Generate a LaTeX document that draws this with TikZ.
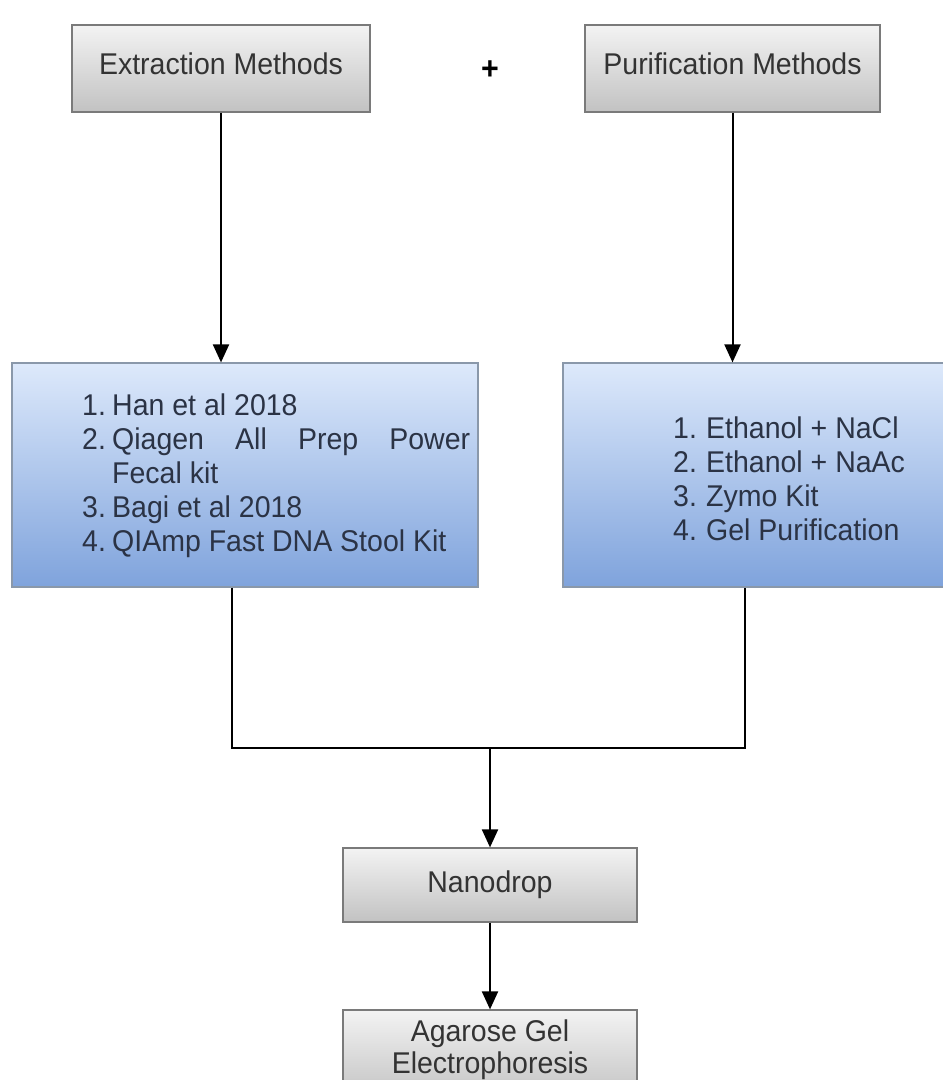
\documentclass[tikz,border=0pt]{standalone}
\usepackage{fontspec}
\setmainfont{Liberation Sans}[FakeStretch=0.95]
\usetikzlibrary{arrows.meta}
\definecolor{txtgray}{HTML}{333333}
\definecolor{txtblue}{HTML}{2B3345}
\definecolor{graytop}{HTML}{F3F3F3}
\definecolor{graybot}{HTML}{C2C2C2}
\definecolor{grayedge}{HTML}{7A7A7A}
\definecolor{bluetop}{HTML}{DDE9FB}
\definecolor{bluebot}{HTML}{7FA3DC}
\definecolor{blueedge}{HTML}{8A98AA}
\tikzset{
  graybox/.style={draw=grayedge, line width=1.2pt, top color=graytop, bottom color=graybot,
    minimum width=#1, inner sep=0pt, text=txtgray, font=\fontsize{30}{32}\selectfont, align=center},
  bluebox/.style={draw=blueedge, line width=1.2pt, top color=bluetop, bottom color=bluebot, inner sep=0pt},
  listtext/.style={inner sep=0pt, text=txtblue, anchor=west, font=\fontsize{30}{34}\selectfont},
  conn/.style={line width=2pt, black},
  arr/.style={conn, -{Triangle[width=16pt,length=18pt]}}
}
\begin{document}
\begin{tikzpicture}[x=1pt,y=-1pt]
\clip (0,0) rectangle (943,1080);
\fill[white] (0,0) rectangle (943,1080);
% top boxes
\node[graybox=298pt, minimum height=87pt, text depth=10pt] (ext) at (221,68.5) {Extraction Methods};
\node[graybox=295pt, minimum height=87pt, text depth=10pt] (pur) at (732.5,68.5) {Purification Methods};
\node[inner sep=0pt, text=black, font=\fontsize{32}{32}\selectfont\bfseries] (plus) at (490,70) {+};
% blue boxes
\node[bluebox, minimum width=466pt, minimum height=224pt] (lbox) at (245,475) {};
\node[bluebox, minimum width=390pt, minimum height=224pt] (rbox) at (758,475) {};
\node[listtext] (ltxt) at (82,477) {%
  \begin{tabular}{@{}l@{}l@{}}
  \makebox[30pt][l]{1.} & Han et al 2018\\
  \makebox[30pt][l]{2.} & \makebox[358pt][s]{Qiagen All Prep Power}\\
  & Fecal kit\\
  \makebox[30pt][l]{3.} & Bagi et al 2018\\
  \makebox[30pt][l]{4.} & QIAmp Fast DNA Stool Kit
  \end{tabular}};
\node[listtext] (rtxt) at (673,483) {%
  \begin{tabular}{@{}l@{}l@{}}
  \makebox[33pt][l]{1.} & Ethanol + NaCl\\
  \makebox[33pt][l]{2.} & Ethanol + NaAc\\
  \makebox[33pt][l]{3.} & Zymo Kit\\
  \makebox[33pt][l]{4.} & Gel Purification
  \end{tabular}};
% bottom boxes
\node[graybox=294pt, minimum height=74pt] (nano) at (490,885) {Nanodrop};
\node[graybox=294pt, minimum height=90pt] (agar) at (490,1055) {};
\node[inner sep=0pt, text=txtgray, font=\fontsize{30}{32}\selectfont, align=center] (agtxt) at (490,1050) {Agarose Gel\\Electrophoresis};
% connectors
\coordinate (jl) at (232,748);
\coordinate (jr) at (745,748);
\coordinate (jm) at (490,748);
\draw[arr] (ext.south) -- (ext.south |- lbox.north);
\draw[arr] (pur.south) -- (pur.south |- rbox.north);
\draw[conn] (lbox.south -| jl) -- (jl) -- (jr) -- (rbox.south -| jr);
\draw[arr] (jm) -- (nano.north);
\draw[arr] (nano.south) -- (agar.north);
\end{tikzpicture}
\end{document}
